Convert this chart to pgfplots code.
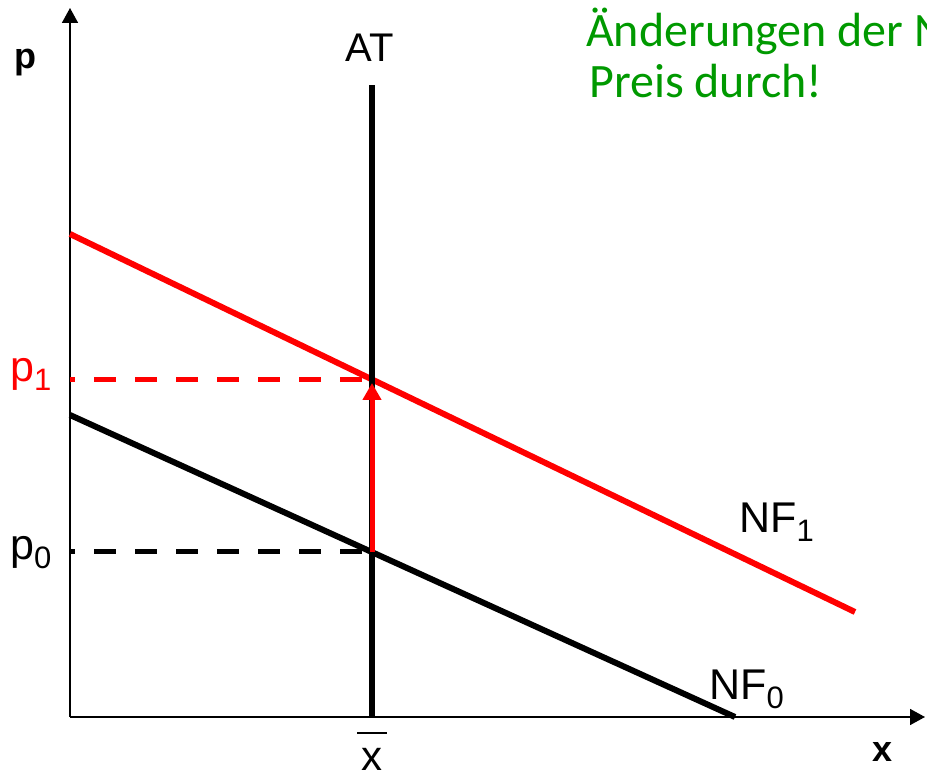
\documentclass[border=0pt]{standalone}
\usepackage{pgfplots}
\pgfplotsset{compat=1.18}
\usepackage{fontspec}
\setmainfont{Liberation Sans}
\newfontfamily\calibri{Carlito}
\usetikzlibrary{arrows.meta}
\definecolor{nfred}{RGB}{255,0,0}
\definecolor{ngreen}{RGB}{0,153,0}
\newcommand{\lbl}[2]{\fontsize{43}{43}\selectfont #1\raisebox{-9pt}{\fontsize{31}{31}\selectfont #2}}
\begin{document}
\begin{tikzpicture}
\useasboundingbox (0,0) rectangle (927pt,774pt);
\begin{axis}[
  at={(70pt,57pt)}, anchor=origin,
  x=1pt, y=1pt,
  xmin=0, xmax=855, ymin=0, ymax=709,
  axis lines=left,
  axis line style={line width=1.6pt, -{Triangle[width=16pt,length=15pt]}},
  xtick=\empty, ytick=\empty,
  clip=false,
]
% NF1 (red demand)
\addplot[nfred, line width=6pt] coordinates {(0,483) (785,105)};
% NF0 (black demand)
\addplot[black, line width=6pt] coordinates {(0,302) (665,0)};
% AT vertical supply
\addplot[black, line width=5.5pt] coordinates {(302,0) (302,632)};
% dashed guides
\addplot[nfred, line width=5pt, dash pattern=on 22pt off 19pt, dash phase=17pt] coordinates {(0,337.5) (302,337.5)};
\addplot[black, line width=5pt, dash pattern=on 22pt off 19pt, dash phase=17pt] coordinates {(0,165) (302,165)};
% red shift arrow
\addplot[nfred, line width=5pt, -{Triangle[width=18pt,length=17pt]}] coordinates {(302,165) (302,334)};
% labels
\node[anchor=base] at (axis cs:300,655) {\fontsize{40}{40}\selectfont AT};
\node[anchor=base west, inner sep=0pt] at (axis cs:-56,648) {\fontsize{36}{36}\selectfont\bfseries p};
\node[anchor=base west, inner sep=0pt] at (axis cs:802,-45) {\fontsize{36}{36}\selectfont\bfseries x};
\node[anchor=base west, inner sep=0pt, text=nfred] at (axis cs:-60,335) {\lbl{p}{1}};
\node[anchor=base west, inner sep=0pt] at (axis cs:-60,157) {\lbl{p}{0}};
\node[anchor=base west, inner sep=0pt] at (axis cs:669,184) {\lbl{NF}{1}};
\node[anchor=base west, inner sep=0pt] at (axis cs:639,17) {\lbl{NF}{0}};
\node[anchor=base, inner sep=0pt] at (axis cs:302,-54) {\fontsize{42}{42}\selectfont x};
\draw[line width=1.5pt] (axis cs:287,-16) -- (axis cs:317,-16);
\node[anchor=base west, inner sep=0pt, align=left, text=ngreen] at (axis cs:516,670) {\calibri\fontsize{48}{51}\selectfont Änderungen der N};
\node[anchor=base west, inner sep=0pt, align=left, text=ngreen] at (axis cs:519,619) {\calibri\fontsize{48}{51}\selectfont Preis durch!};
\end{axis}
\end{tikzpicture}
\end{document}
